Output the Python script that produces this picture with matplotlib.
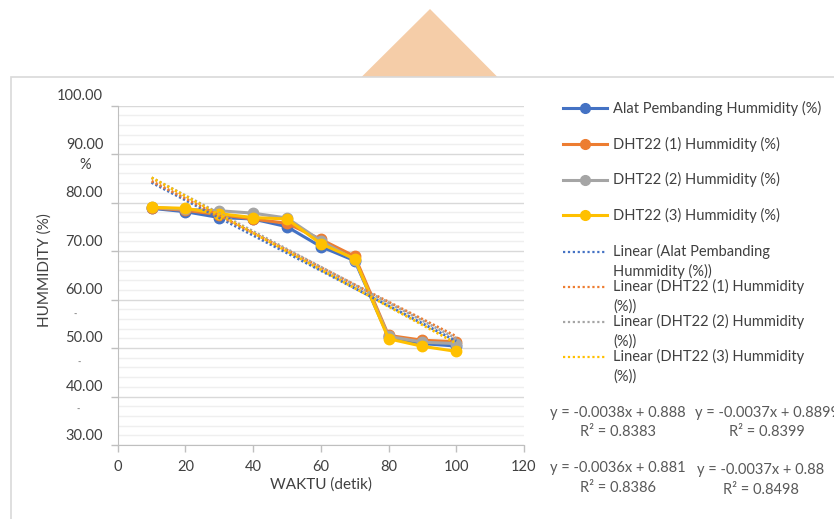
"""Humidity: reference instrument vs three DHT22 sensors, with linear trendlines."""

import numpy as np
import matplotlib
matplotlib.use("Agg")
import matplotlib.pyplot as plt
from matplotlib.lines import Line2D
from matplotlib.patches import Polygon, Rectangle
from matplotlib.transforms import ScaledTranslation

plt.rcParams["font.family"] = ["Lato", "DejaVu Sans"]

# --- data ---
waktu = [10, 20, 30, 40, 50, 60, 70, 80, 90, 100]
alat_pembanding = [78.8, 78.1, 76.9, 76.6, 75.0, 70.9, 68.0, 52.2, 50.9, 50.4]
dht22_1 = [78.9, 78.4, 77.5, 76.6, 75.7, 72.4, 68.9, 52.6, 51.6, 51.3]
dht22_2 = [79.0, 78.6, 78.3, 77.8, 76.8, 72.1, 68.2, 52.4, 51.2, 50.9]
dht22_3 = [79.0, 78.8, 77.7, 76.9, 76.6, 71.5, 68.4, 51.9, 50.35, 49.3]

series_names = [
    "Alat Pembanding Hummidity (%)",
    "DHT22 (1) Hummidity (%)",
    "DHT22 (2) Hummidity (%)",
    "DHT22 (3) Hummidity (%)",
]
trend_names = [
    "Linear (Alat Pembanding\nHummidity (%))",
    "Linear (DHT22 (1) Hummidity\n(%))",
    "Linear (DHT22 (2) Hummidity\n(%))",
    "Linear (DHT22 (3) Hummidity\n(%))",
]
colors = ["#4472C4", "#ED7D31", "#A5A5A5", "#FFC000"]

equations = [
    ("y = -0.0038x + 0.888", "R\u00b2 = 0.8383"),
    ("y = -0.0037x + 0.8899", "R\u00b2 = 0.8399"),
    ("y = -0.0036x + 0.881", "R\u00b2 = 0.8386"),
    ("y = -0.0037x + 0.88", "R\u00b2 = 0.8498"),
]

yticks = [30, 40, 50, 60, 70, 80, 90, 100]
xticks = [0, 20, 40, 60, 80, 100, 120]

W, H = 834, 519
TXT = "#404040"
GRID = "#D9D9D9"

fig = plt.figure(figsize=(W / 100, H / 100), dpi=100)

# overlay in pixel coords for the chart frame, legend and equations
bg = fig.add_axes([0, 0, 1, 1], zorder=0)
bg.set_xlim(0, W)
bg.set_ylim(H, 0)
bg.axis("off")
bg.add_patch(Polygon([[361.5, 77], [430, 9], [497.5, 77]], closed=True,
                     facecolor="#F5CDA8", edgecolor="none"))
bg.add_patch(Rectangle((10.7, 76.5), 900, 500, facecolor="white",
                       edgecolor=GRID, lw=1.2))

ax = fig.add_axes([117.7 / W, (H - 445) / H, 406.3 / W, 339.5 / H], zorder=1)
ax.set_facecolor("none")

series = [alat_pembanding, dht22_1, dht22_2, dht22_3]
for vals, c in zip(series, colors):
    ax.plot(waktu, vals, color=c, lw=2.2, marker="o", ms=7.5,
            markeredgecolor=c, zorder=3)

# linear trendlines like Excel (least squares over the same points)
x_span = np.array([waktu[0], waktu[-1]])
for vals, c in zip(series, colors):
    coef = np.polyfit(waktu, vals, 1)
    ax.plot(x_span, np.polyval(coef, x_span), color=c, lw=2.0,
            ls=(0, (0.8, 0.8)), zorder=4)

ax.set_xlim(0, 120)
ax.set_ylim(30, 100)
ax.set_xticks(xticks)
ax.set_yticks(yticks)
ax.set_yticks(np.arange(30, 100, 2), minor=True)
ax.set_yticklabels([])
ax.grid(axis="y", which="major", color=GRID, lw=1.0, zorder=1)
ax.grid(axis="y", which="minor", color="#EFEFEF", lw=1.0, zorder=0)
ax.tick_params(axis="y", which="minor", length=0)
ax.tick_params(axis="both", which="major", direction="out", length=5,
               color="#BFBFBF", width=1)
ax.tick_params(axis="x", labelsize=10.5, labelcolor=TXT, pad=6)
for s in ["top", "right"]:
    ax.spines[s].set_visible(False)
for s in ["left", "bottom"]:
    ax.spines[s].set_color("#BFBFBF")

# y tick labels sit a little above their gridlines in the reference
ylab_tr = ax.get_yaxis_transform() + ScaledTranslation(-0.145, 0.095, fig.dpi_scale_trans)
for v in yticks:
    ax.text(0, v, f"{v:.2f}", transform=ylab_tr, ha="right", va="center",
            fontsize=10.5, color=TXT)
bg.text(85, 165, "%", ha="center", va="center", fontsize=10.5, color=TXT)
# faint leftover label fragments between the lower tick labels
for fx, fy in [(76, 314), (80, 362), (79, 409)]:
    bg.text(fx, fy, "\u00b7\u00b7", ha="center", va="center", fontsize=6,
            color="#8C8C8C")

ax.set_xlabel("WAKTU (detik)", fontsize=11, color=TXT)
ax.xaxis.label.set_va("center")
ax.xaxis.set_label_coords(0.5, (445 - 485) / 339.5)
ax.set_ylabel("HUMMIDITY (%)", fontsize=11, color=TXT)
ax.yaxis.label.set_va("center")
ax.yaxis.set_label_coords((45 - 117.7) / 406.3, (445 - 270) / 339.5)

# legend, laid out like the Excel one
leg_y = [108, 144, 179.5, 215, 251.5, 286.5, 321.5, 356.5]
for i, (name, c) in enumerate(zip(series_names, colors)):
    y = leg_y[i]
    bg.add_line(Line2D([563, 607], [y, y], color=c, lw=2.2))
    bg.plot([585], [y], marker="o", ms=7, color=c)
    bg.text(613, y, name, ha="left", va="center", fontsize=10.5, color=TXT)
for i, (name, c) in enumerate(zip(trend_names, colors)):
    y = leg_y[4 + i]
    bg.add_line(Line2D([563, 605], [y, y], color=c, lw=1.6, ls=(0, (1, 1.2))))
    for k, line in enumerate(name.split("\n")):
        bg.text(613, y + 20 * k, line, ha="left", va="center",
                fontsize=10.5, color=TXT)

# trendline equations
eq_pos = [(618, 412.5, 432), (767, 412.5, 432), (618, 468, 488), (761, 470, 490.5)]
for (eq, r2), (cx, y1, y2) in zip(equations, eq_pos):
    bg.text(cx, y1, eq, ha="center", va="center", fontsize=10.5, color="#595959")
    bg.text(cx, y2, r2, ha="center", va="center", fontsize=10.5, color="#595959")

fig.savefig("out.png", dpi=100)
